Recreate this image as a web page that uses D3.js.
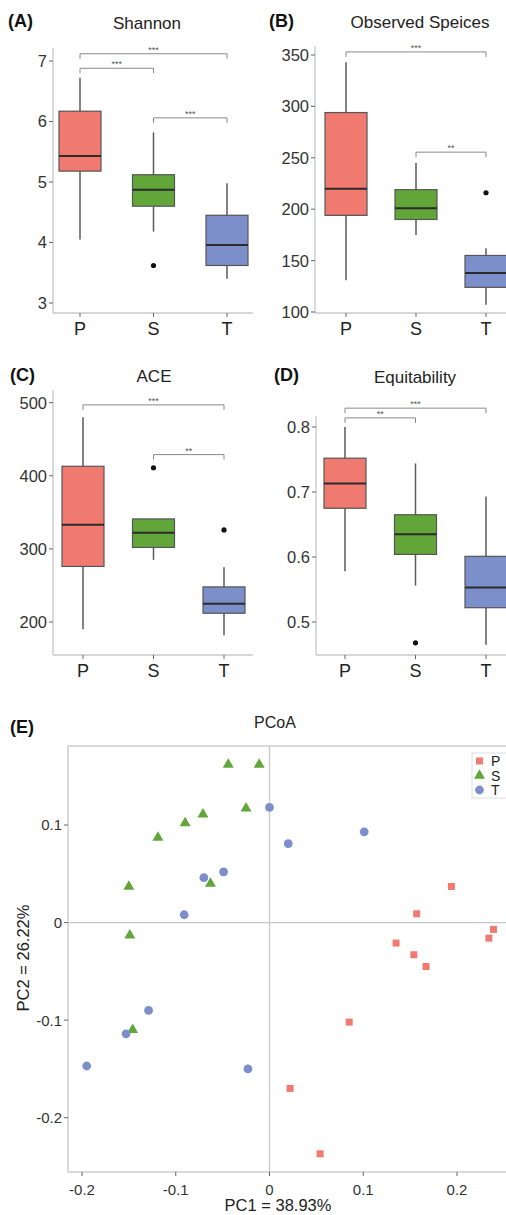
<!DOCTYPE html>
<html>
<head>
<meta charset="utf-8">
<script src="https://cdn.jsdelivr.net/npm/d3@7"></script>
<style>
  body { margin: 0; background: #fff; }
  svg { display: block; font-family: "Liberation Sans", Arial, sans-serif; }
</style>
</head>
<body>
<div id="chart"></div>
<script>
// groups
var groups = ["P", "S", "T"];
var groupColors = ["#F07A70", "#62A63A", "#7D8FCA"];

// box stats per group: [low whisker, Q1, median, Q3, high whisker]
var shannonStats = [[4.05, 5.18, 5.43, 6.17, 6.72], [4.18, 4.60, 4.87, 5.12, 5.82], [3.40, 3.62, 3.96, 4.45, 4.98]];
var shannonOutliers = [[], [3.62], []];
var shannonTicks = [3, 4, 5, 6, 7];
var shannonBrackets = [[0, 2, 7.12, "***"], [0, 1, 6.88, "***"], [1, 2, 6.06, "***"]];

var observedStats = [[131, 194, 220, 294, 343], [175, 190, 201, 219, 245], [107, 124, 138, 155, 162]];
var observedOutliers = [[], [], [216]];
var observedTicks = [100, 150, 200, 250, 300, 350];
var observedBrackets = [[0, 2, 353, "***"], [1, 2, 255.5, "**"]];

var aceStats = [[190, 276, 333, 413, 480], [285, 302, 322, 341, 341], [182, 212, 225, 248, 275]];
var aceOutliers = [[], [411], [326]];
var aceTicks = [200, 300, 400, 500];
var aceBrackets = [[0, 2, 497, "***"], [1, 2, 429, "**"]];

var equitStats = [[0.578, 0.675, 0.713, 0.752, 0.800], [0.556, 0.604, 0.635, 0.665, 0.744], [0.465, 0.522, 0.553, 0.601, 0.693]];
var equitOutliers = [[], [0.468], []];
var equitTicks = [0.5, 0.6, 0.7, 0.8];
var equitBrackets = [[0, 2, 0.829, "***"], [0, 1, 0.814, "**"]];

// PCoA coordinates [PC1, PC2]
var pcoaP = [[0.194, 0.037], [0.157, 0.009], [0.239, -0.007], [0.234, -0.016], [0.135, -0.021],
             [0.154, -0.033], [0.167, -0.045], [0.085, -0.102], [0.022, -0.170], [0.054, -0.237]];
var pcoaS = [[-0.044, 0.162], [-0.011, 0.162], [-0.025, 0.117], [-0.071, 0.111], [-0.090, 0.102],
             [-0.119, 0.087], [-0.150, 0.037], [-0.063, 0.040], [-0.149, -0.013], [-0.146, -0.110]];
var pcoaT = [[0.000, 0.118], [0.020, 0.081], [0.101, 0.093], [-0.070, 0.046], [-0.049, 0.052],
             [-0.091, 0.008], [-0.129, -0.090], [-0.153, -0.114], [-0.195, -0.147], [-0.023, -0.150]];
var pcoaXTicks = [-0.2, -0.1, 0, 0.1, 0.2];
var pcoaYTicks = [-0.2, -0.1, 0, 0.1];

var svg = d3.select("#chart").append("svg")
  .attr("width", 506)
  .attr("height", 1215);

var axisColor = "#c8c8c8";
var textColor = "#333";
// plain hyphen for negatives, like the original
var fmt1 = function(t){ return t === 0 ? "0" : d3.format(".1f")(t).replace("\u2212", "-"); };

function boxPanel(p){
  var g = svg.append("g");
  var y = d3.scaleLinear().domain(p.domain).range(p.range);
  var x = d3.scalePoint().domain(groups).range(p.xRange);
  var bw = 42;

  // axes lines
  g.append("line").attr("x1", p.left).attr("x2", p.left).attr("y1", p.top).attr("y2", p.bottom)
    .attr("stroke", axisColor).attr("stroke-width", 1.3);
  g.append("line").attr("x1", p.left).attr("x2", p.right).attr("y1", p.bottom).attr("y2", p.bottom)
    .attr("stroke", axisColor).attr("stroke-width", 1.3);

  // y ticks
  p.ticks.forEach(function(t){
    g.append("line").attr("x1", p.left - 4).attr("x2", p.left).attr("y1", y(t)).attr("y2", y(t))
      .attr("stroke", "#666");
    g.append("text").attr("x", p.left - 6).attr("y", y(t)).attr("dy", "0.36em")
      .attr("text-anchor", "end").style("font-size", "16.5px").attr("fill", textColor)
      .text(p.fmt ? p.fmt(t) : t);
  });
  // x ticks
  groups.forEach(function(gr){
    g.append("line").attr("x1", x(gr)).attr("x2", x(gr)).attr("y1", p.bottom).attr("y2", p.bottom + 4)
      .attr("stroke", "#666");
    g.append("text").attr("x", x(gr)).attr("y", p.bottom + 22)
      .attr("text-anchor", "middle").style("font-size", "18px").attr("fill", "#222")
      .text(gr);
  });

  // boxes
  p.stats.forEach(function(s, i){
    var cx = x(groups[i]);
    g.append("line").attr("x1", cx).attr("x2", cx).attr("y1", y(s[0])).attr("y2", y(s[4]))
      .attr("stroke", "#5a5a5a").attr("stroke-width", 1.5);
    g.append("rect").attr("x", cx - bw / 2).attr("width", bw)
      .attr("y", y(s[3])).attr("height", y(s[1]) - y(s[3]))
      .attr("fill", groupColors[i]).attr("stroke", "#555").attr("stroke-width", 1.2);
    g.append("line").attr("x1", cx - bw / 2).attr("x2", cx + bw / 2).attr("y1", y(s[2])).attr("y2", y(s[2]))
      .attr("stroke", "#2b2b2b").attr("stroke-width", 2);
    p.outliers[i].forEach(function(o){
      g.append("circle").attr("cx", cx).attr("cy", y(o)).attr("r", 2.6).attr("fill", "#111");
    });
  });

  // significance brackets
  p.brackets.forEach(function(b){
    var x1 = x(groups[b[0]]), x2 = x(groups[b[1]]), by = y(b[2]);
    g.append("path")
      .attr("d", "M" + x1 + "," + (by + 5) + "V" + by + "H" + x2 + "V" + (by + 5))
      .attr("fill", "none").attr("stroke", "#888").attr("stroke-width", 1);
    g.append("text").attr("x", (x1 + x2) / 2).attr("y", by - 1)
      .attr("text-anchor", "middle").style("font-size", "9px").attr("fill", "#555")
      .text(b[3]);
  });

  // titles
  g.append("text").attr("x", p.titleX).attr("y", p.titleY).attr("text-anchor", "middle")
    .style("font-size", "17px").attr("fill", "#222").text(p.title);
  g.append("text").attr("x", p.tagX).attr("y", p.tagY)
    .style("font-size", "18px").style("font-weight", "bold").attr("fill", "#111").text(p.tag);
}

boxPanel({ tag: "(A)", tagX: 8, tagY: 27, title: "Shannon", titleX: 147, titleY: 29,
  domain: [3, 7], range: [303, 61], left: 53, right: 253, top: 48, bottom: 313, xRange: [80, 227],
  ticks: shannonTicks, stats: shannonStats, outliers: shannonOutliers, brackets: shannonBrackets });

boxPanel({ tag: "(B)", tagX: 269, tagY: 27, title: "Observed Speices", titleX: 420, titleY: 28,
  domain: [100, 350], range: [312, 55], left: 315, right: 506, top: 46, bottom: 313, xRange: [346, 486],
  ticks: observedTicks, stats: observedStats, outliers: observedOutliers, brackets: observedBrackets });

boxPanel({ tag: "(C)", tagX: 10, tagY: 381, title: "ACE", titleX: 154, titleY: 382,
  domain: [200, 500], range: [622, 402.7], left: 53, right: 253, top: 390, bottom: 655, xRange: [83, 224],
  ticks: aceTicks, stats: aceStats, outliers: aceOutliers, brackets: aceBrackets });

boxPanel({ tag: "(D)", tagX: 274, tagY: 381, title: "Equitability", titleX: 415, titleY: 383,
  domain: [0.5, 0.8], range: [622, 427], left: 316, right: 506, top: 416, bottom: 655, xRange: [345, 486],
  ticks: equitTicks, stats: equitStats, outliers: equitOutliers, brackets: equitBrackets,
  fmt: d3.format(".1f") });

// ---- PCoA panel ----
var pl = 68, pr = 506, pt = 746, pb = 1172;
var px = d3.scaleLinear().domain([-0.2, 0.2]).range([82, 457]);
var py = d3.scaleLinear().domain([-0.2, 0.1]).range([1117.7, 825]);
var gE = svg.append("g");

gE.append("rect").attr("x", pl).attr("y", pt).attr("width", pr - pl + 5).attr("height", pb - pt)
  .attr("fill", "none").attr("stroke", axisColor).attr("stroke-width", 1.3);
gE.append("line").attr("x1", px(0)).attr("x2", px(0)).attr("y1", pt).attr("y2", pb)
  .attr("stroke", axisColor).attr("stroke-width", 1.3);
gE.append("line").attr("x1", pl).attr("x2", pr).attr("y1", py(0)).attr("y2", py(0))
  .attr("stroke", axisColor).attr("stroke-width", 1.3);

pcoaXTicks.forEach(function(t){
  gE.append("line").attr("x1", px(t)).attr("x2", px(t)).attr("y1", pb).attr("y2", pb + 4).attr("stroke", "#666");
  gE.append("text").attr("x", px(t)).attr("y", pb + 23).attr("text-anchor", "middle")
    .style("font-size", "15px").attr("fill", textColor).text(fmt1(t));
});
pcoaYTicks.forEach(function(t){
  gE.append("line").attr("x1", pl - 4).attr("x2", pl).attr("y1", py(t)).attr("y2", py(t)).attr("stroke", "#666");
  gE.append("text").attr("x", pl - 6).attr("y", py(t)).attr("dy", "0.36em").attr("text-anchor", "end")
    .style("font-size", "15px").attr("fill", textColor).text(fmt1(t));
});

gE.selectAll("rect.p").data(pcoaP).enter().append("rect").attr("class", "p")
  .attr("x", function(d){ return px(d[0]) - 3.5; }).attr("y", function(d){ return py(d[1]) - 3.5; })
  .attr("width", 7).attr("height", 7).attr("fill", groupColors[0]);

var tri = d3.symbol().type(d3.symbolTriangle).size(52);
gE.selectAll("path.s").data(pcoaS).enter().append("path").attr("class", "s")
  .attr("d", tri).attr("transform", function(d){ return "translate(" + px(d[0]) + "," + py(d[1]) + ")"; })
  .attr("fill", groupColors[1]);

gE.selectAll("circle.t").data(pcoaT).enter().append("circle").attr("class", "t")
  .attr("cx", function(d){ return px(d[0]); }).attr("cy", function(d){ return py(d[1]); })
  .attr("r", 4.4).attr("fill", groupColors[2]);

// legend
var lg = gE.append("g");
lg.append("rect").attr("x", 472).attr("y", 753).attr("width", 40).attr("height", 45)
  .attr("fill", "#fff").attr("stroke", "#ddd");
groups.forEach(function(gr, i){
  var ly = 761 + i * 14.5;
  if (i === 0) {
    lg.append("rect").attr("x", 476).attr("y", ly - 3.5).attr("width", 7).attr("height", 7).attr("fill", groupColors[0]);
  } else if (i === 1) {
    lg.append("path").attr("d", tri).attr("transform", "translate(479.5," + ly + ")").attr("fill", groupColors[1]);
  } else {
    lg.append("circle").attr("cx", 479.5).attr("cy", ly).attr("r", 4.4).attr("fill", groupColors[2]);
  }
  lg.append("text").attr("x", 491).attr("y", ly).attr("dy", "0.36em")
    .style("font-size", "14px").attr("fill", "#222").text(gr);
});

gE.append("text").attr("x", 275).attr("y", 728).attr("text-anchor", "middle")
  .style("font-size", "16px").attr("fill", "#222").text("PCoA");
gE.append("text").attr("x", 10).attr("y", 733)
  .style("font-size", "18px").style("font-weight", "bold").attr("fill", "#111").text("(E)");
gE.append("text").attr("x", 278).attr("y", 1211).attr("text-anchor", "middle")
  .style("font-size", "16.5px").attr("fill", "#222").text("PC1 = 38.93%");
gE.append("text").attr("transform", "translate(29,958) rotate(-90)").attr("text-anchor", "middle")
  .style("font-size", "16.5px").attr("fill", "#222").text("PC2 = 26.22%");
</script>
</body>
</html>
